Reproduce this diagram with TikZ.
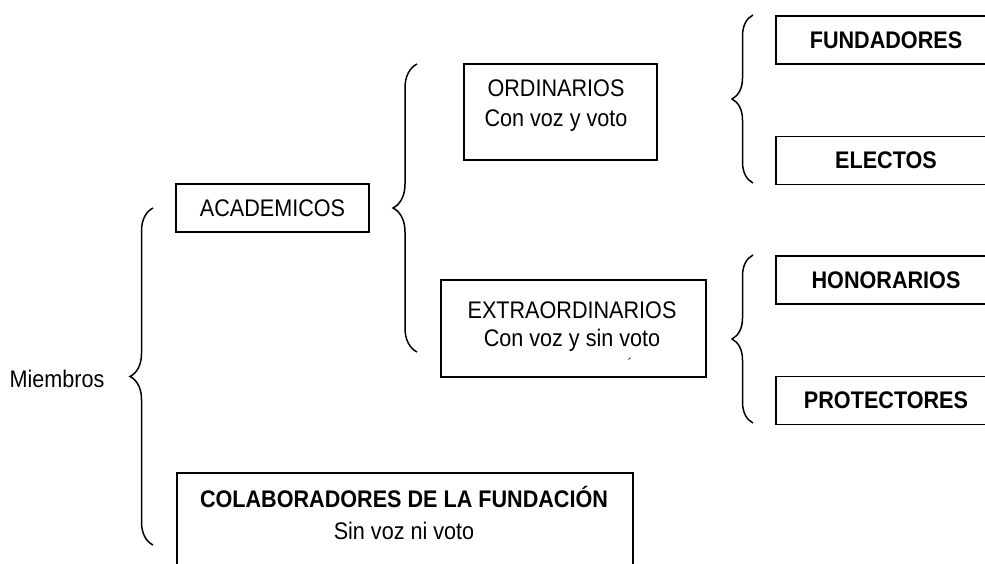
\documentclass[tikz,border=0pt]{standalone}
\usepackage{fontspec}
\setmainfont[FakeStretch=0.9]{Liberation Sans}
\usetikzlibrary{decorations.pathreplacing}
\begin{document}
\begin{tikzpicture}[x=0.5pt,y=0.5pt,
  every node/.style={font=\fontsize{12}{14}\selectfont},
  caja/.style={draw,line width=0.9pt,inner sep=0pt},
  cajader/.style={caja,minimum width=110pt,minimum height=24pt,font=\fontsize{12}{14}\selectfont\bfseries},
  llave/.style={decorate,decoration={brace,amplitude=#1},line width=0.75pt}]

\clip (0,0) rectangle (985,563);

% texto de la izquierda
\node (miembros) at (57,184) {Miembros};

% cajas
\node[caja,minimum width=96.5pt,minimum height=24pt] (acad) at (272.5,355) {ACADEMICOS};
\node[caja,minimum width=96.5pt,minimum height=48pt] (ord) at (560.5,451) {};
\node[align=center,font=\fontsize{12}{15}\selectfont] (ordt) at (556,457) {ORDINARIOS\\Con voz y voto};
\node[caja,minimum width=132.5pt,minimum height=48.5pt] (extra) at (573.5,234.5) {};
\node[align=center] (extrat) at (572,236) {EXTRAORDINARIOS\\Con voz y sin voto};
\node[font=\fontsize{7}{8}\selectfont] (marca) at (630,200) {´};

\node[cajader] (fund) at (886,523) {FUNDADORES};
\node[cajader] (elec) at (886,402.5) {ELECTOS};
\node[cajader] (hon) at (886,283) {HONORARIOS};
\node[cajader] (prot) at (886,162.5) {PROTECTORES};

\node[caja,minimum width=228pt,minimum height=60pt] (colab) at (405,30) {};
\node[align=center] (colabt) at (404,50) {\textbf{COLABORADORES DE LA FUNDACIÓN}\\[2pt]Sin voz ni voto};

% llaves
\coordinate (l1a) at (153,18);  \coordinate (l1b) at (153,355);
\coordinate (l2a) at (417,211); \coordinate (l2b) at (417,499);
\coordinate (l3a) at (753,380); \coordinate (l3b) at (753,548);
\coordinate (l4a) at (753,140); \coordinate (l4b) at (753,308);
\draw[llave=11.5pt] (l1a) -- (l1b);
\draw[llave=12pt] (l2a) -- (l2b);
\draw[llave=10.5pt] (l3a) -- (l3b);
\draw[llave=10.5pt] (l4a) -- (l4b);

\end{tikzpicture}
\end{document}
